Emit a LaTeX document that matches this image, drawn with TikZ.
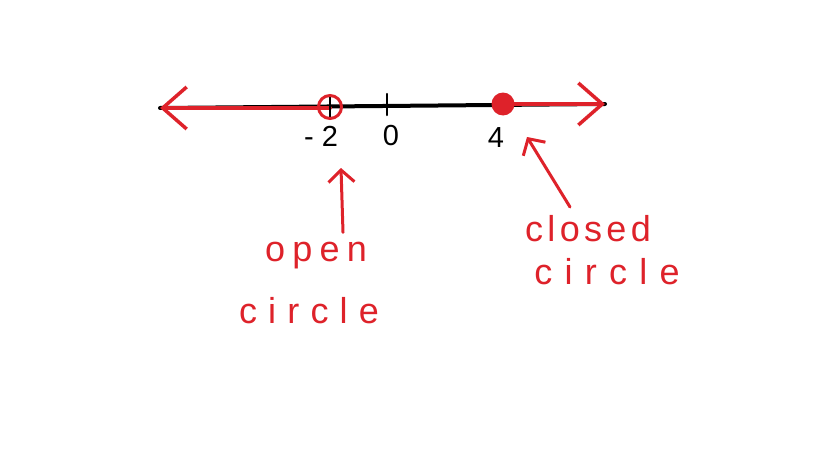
\documentclass[tikz,border=0pt]{standalone}
\usepackage{fontspec}
\setsansfont{Liberation Sans}
\usetikzlibrary{arrows.meta}
\definecolor{penred}{RGB}{222,34,42}
\newcommand{\spaced}[1]{\addfontfeature{LetterSpace=#1}}
\tikzset{
  pen/.style={line width=4pt, line cap=round, line join=round},
  bigtip/.style={-{Straight Barb[length=24pt, width=42pt, line width=3.5pt]}},
  smalltip/.style={-{Straight Barb[length=12pt, width=26pt, line width=3pt]}},
  numlabel/.style={font=\sffamily\fontsize{29}{30}\selectfont, inner sep=0pt},
  hand/.style={font=\sffamily\fontsize{36}{40}\selectfont, text=penred, inner sep=0pt}
}
\begin{document}
\begin{tikzpicture}[x=1pt, y=-1pt]
  \useasboundingbox[fill=white] (0,0) rectangle (819,460);
  % number line
  \coordinate (left) at (160,108);
  \coordinate (right) at (605,104);
  \coordinate (mtwo) at (330,107);
  \coordinate (zero) at (387,106);
  \coordinate (four) at (503,104);
  \draw[pen] (left) -- (right);
  \draw[pen, penred, bigtip] ([yshift=-1]mtwo) -- (left);
  \draw[pen, penred, bigtip] (four) -- (right);
  % ticks
  \draw[pen, line width=2.5pt] ([yshift=-10]mtwo) -- ([yshift=10]mtwo);
  \draw[pen, line width=2.5pt] ([yshift=-9]zero) -- ([yshift=12]zero);
  % open and closed circles
  \draw[penred, line width=3pt] (mtwo) circle (11.5);
  \fill[penred] (four) circle (11.5);
  % labels
  \node[numlabel] (lmtwo) at (321,136) {- 2};
  \node[numlabel] (lzero) at (391,136) {0};
  \node[numlabel] (lfour) at (496,138) {4};
  \node[hand] (openA) at (316,256) {\spaced{20}open};
  \node[hand] (openB) at (309,311) {\spaced{31}circle};
  \node[hand] (closedA) at (588,229) {\spaced{12}closed};
  \node[hand] (closedB) at (607,272) {\spaced{34}circle};
  \coordinate (openTip) at (341,168);
  \coordinate (closedTip) at (527,137);
  \draw[pen, penred, line width=3pt, smalltip] ([xshift=27]openA.north) ++(0,-10) -- (openTip);
  \draw[pen, penred, line width=3pt, smalltip] (570,207) -- (closedTip);
\end{tikzpicture}
\end{document}
